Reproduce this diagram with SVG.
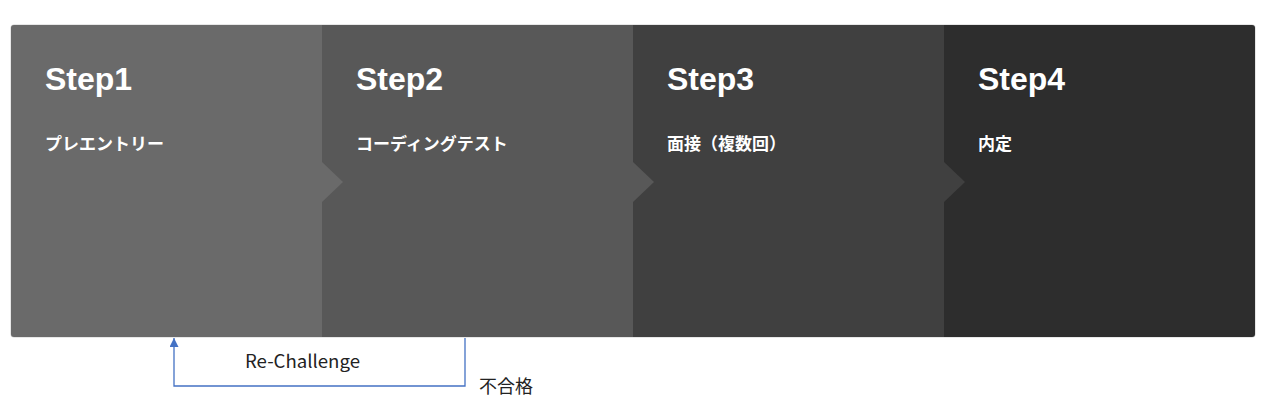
<svg xmlns="http://www.w3.org/2000/svg" width="1267" height="407" viewBox="0 0 1267 407">
<style>
.title{font-family:"Liberation Sans",Arial,sans-serif;font-weight:bold;font-size:32px;fill:#ffffff}
.sub{font-family:"Noto Sans CJK JP","Noto Sans",sans-serif;font-weight:bold;font-size:17px;fill:#ffffff}
.lbl{font-family:"Noto Sans CJK JP","Liberation Sans",sans-serif;font-size:18px;fill:#222222}
.conn{fill:none;stroke:#4472c4;stroke-width:1.3}
</style>
<defs>
<marker id="arr" viewBox="0 0 10 10" refX="10" refY="5" markerWidth="9" markerHeight="9" markerUnits="userSpaceOnUse" orient="auto">
<path d="M0,0 L10,5 L0,10 z" fill="#4472c4"/>
</marker>
<clipPath id="clip"><rect x="11" y="25" width="1244" height="312" rx="3"/></clipPath>
</defs>
<rect x="10.5" y="24.5" width="1245" height="313" rx="3.5" fill="#cfcfcf"/>
<g clip-path="url(#clip)">
<g id="step4">
<rect x="944" y="25" width="311" height="312" fill="#2d2d2d"/>
<text class="title" x="978" y="90">Step4</text>
<text class="sub" x="978" y="150">内定</text>
</g>
<g id="step3">
<rect x="633" y="25" width="311" height="312" fill="#404040"/>
<polygon points="944,162 965,182 944,202" fill="#404040"/>
<text class="title" x="667" y="90">Step3</text>
<text class="sub" x="667" y="150">面接（複数回）</text>
</g>
<g id="step2">
<rect x="322" y="25" width="311" height="312" fill="#585858"/>
<polygon points="633,162 654,182 633,202" fill="#585858"/>
<text class="title" x="356" y="90">Step2</text>
<text class="sub" x="356" y="150">コーディングテスト</text>
</g>
<g id="step1">
<rect x="11" y="25" width="311" height="312" fill="#6a6a6a"/>
<polygon points="322,162 343,182 322,202" fill="#6a6a6a"/>
<text class="title" x="45" y="90">Step1</text>
<text class="sub" x="45" y="150">プレエントリー</text>
</g>
</g>
<g id="connectors">
<polyline class="conn" points="465,338 465,386 174,386 174,338" marker-end="url(#arr)"/>
</g>
<g id="labels">
<text class="lbl" x="245" y="368" textLength="115" lengthAdjust="spacingAndGlyphs">Re-Challenge</text>
<text class="lbl" x="479" y="393">不合格</text>
</g>
</svg>
